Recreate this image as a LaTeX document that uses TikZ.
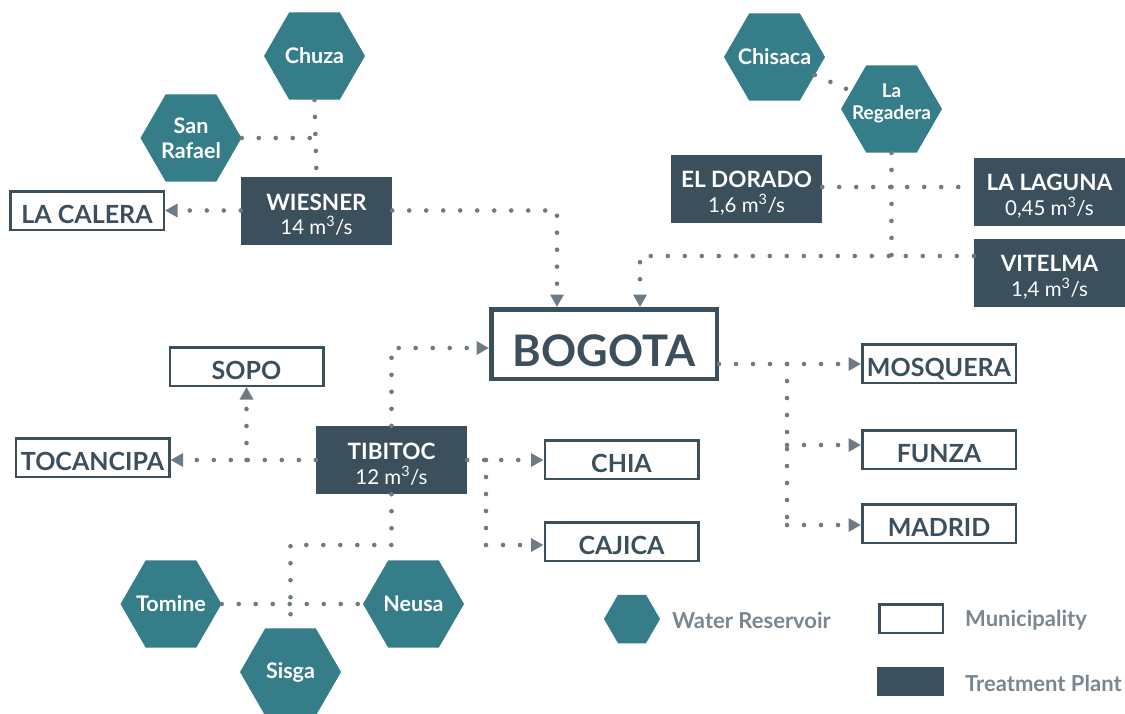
\documentclass[tikz,border=0pt]{standalone}
\usepackage{fontspec}
\setmainfont{Lato}
\usetikzlibrary{shapes.geometric,arrows.meta}
\definecolor{tealc}{RGB}{53,125,137}
\definecolor{darkc}{RGB}{60,79,93}
\definecolor{dotc}{RGB}{110,122,132}
\definecolor{legc}{RGB}{122,134,144}
\newcommand{\plab}[2]{{\bfseries\fontsize{22.5}{24.5}\selectfont #1}\\#2}
\begin{document}
\begin{tikzpicture}[x=1pt,y=-1pt,
 hexa/.style={regular polygon, regular polygon sides=6, minimum size=101pt, inner sep=0pt, fill=tealc},
 hexlab/.style={text=white, font=\bfseries\fontsize{21.5}{25}\selectfont, align=center, inner sep=0pt},
 plant/.style={fill=darkc, minimum width=151pt, minimum height=68pt, inner sep=0pt},
 plantlab/.style={text=white, align=center, inner sep=0pt, yshift=-4pt, font=\fontsize{20.5}{24.5}\selectfont},
 muni/.style={draw=darkc, line width=2.5pt, fill=white, minimum width=153.5pt, minimum height=38.5pt, inner sep=0pt, text=darkc, text height=26pt, text depth=0pt, font=\bfseries\fontsize{25}{27}\selectfont},
 dots/.style={draw=dotc, line width=4.6pt, line cap=round, dash pattern=on 0pt off 17pt},
 arr/.style={dots, -{Triangle[length=12.5pt,width=13pt]}},
 legtext/.style={text=legc, font=\bfseries\fontsize{22}{24}\selectfont, anchor=west, inner sep=0pt}
]
\useasboundingbox (0,0) rectangle (1125,713);

% reservoirs
\node[hexa, label={[hexlab]center:Chuza}] (chuza) at (314.5,56) {};
\node[hexa, label={[hexlab]center:{San\\Rafael}}] (sanrafael) at (191,138) {};
\node[hexa, label={[hexlab]center:Chisaca}] (chisaca) at (774.5,57) {};
\node[hexa, label={[hexlab, font=\bfseries\fontsize{19}{22}\selectfont, yshift=5.5pt]center:{La\\Regadera}}] (regadera) at (891.5,109) {};
\node[hexa, label={[hexlab]center:Tomine}] (tomine) at (171,604) {};
\node[hexa, label={[hexlab]center:Neusa}] (neusa) at (413.5,604) {};
\node[hexa, label={[hexlab]center:Sisga}] (sisga) at (290.5,672) {};

% treatment plants
\node[plant, label={[plantlab]center:{\plab{WIESNER}{14 m\textsuperscript{3}/s}}}] (wiesner) at (316.5,210.5) {};
\node[plant, label={[plantlab]center:{\plab{EL DORADO}{1,6 m\textsuperscript{3}/s}}}] (eldorado) at (746.5,189) {};
\node[plant, label={[plantlab]center:{\plab{LA LAGUNA}{0,45 m\textsuperscript{3}/s}}}] (laguna) at (1049.5,192) {};
\node[plant, label={[plantlab]center:{\plab{VITELMA}{1,4 m\textsuperscript{3}/s}}}] (vitelma) at (1049.5,273) {};
\node[plant, label={[plantlab]center:{\plab{TIBITOC}{12 m\textsuperscript{3}/s}}}] (tibitoc) at (391.5,460) {};

% municipalities
\node[muni] (lacalera) at (87,210.5) {LA CALERA};
\node[muni, line width=4.5pt, minimum width=225.5pt, minimum height=69.5pt, text height=45pt, font=\bfseries\fontsize{43.5}{46}\selectfont] (bogota) at (604,344) {BOGOTA};
\node[muni] (sopo) at (246.5,366.5) {SOPO};
\node[muni] (tocancipa) at (92.5,457.5) {TOCANCIPA};
\node[muni] (chia) at (621.5,459.5) {CHIA};
\node[muni] (cajica) at (621.5,541.5) {CAJICA};
\node[muni] (mosquera) at (939,363.5) {MOSQUERA};
\node[muni] (funza) at (939,449.5) {FUNZA};
\node[muni] (madrid) at (939,523.5) {MADRID};

% legend
\node[hexa, minimum size=56pt] (lhex) at (632,619) {};
\node[legtext] (lhext) at (672,620) {Water Reservoir};
\node[muni, minimum width=63.5pt, minimum height=28.5pt] (lmuni) at (911,618.5) {};
\node[legtext] (lmunit) at (965,620) {Municipality};
\node[fill=darkc, minimum width=67pt, minimum height=29pt, inner sep=0pt] (lplant) at (910.5,681.5) {};
\node[legtext] (lplantt) at (965,683) {Treatment Plant};

% junction coordinates
\coordinate (j1) at (314.5,138);
\coordinate (j2) at (891.5,256);
\coordinate (j3) at (246.5,460);
\coordinate (j4) at (486,460);
\coordinate (j5) at (290.5,545);
\coordinate (j6) at (787,364);
\coordinate (j7) at (787,445);
\coordinate (j8) at (787,525);

% connectors
\draw[dots] (chuza.south) -- (wiesner.north);
\draw[dots] (sanrafael.east) -- (j1);
\draw[arr] (wiesner.west) -- (lacalera.east |- wiesner.west);
\draw[arr] (wiesner.east) -| ([xshift=-47pt]bogota.north);
\draw[dots] (chisaca) -- (regadera);
\draw[dots] (regadera.south) -- (j2);
\draw[dots] (eldorado.east |- 0,187) -- (laguna.west |- 0,187);
\draw[arr] (vitelma.west |- j2) -| ([xshift=36pt]bogota.north);
\draw[arr] (tibitoc.north) |- (bogota.west |- 0,348);
\draw[arr] (tibitoc.west) -- (tocancipa.east |- tibitoc.west);
\draw[arr] (j3) -- (sopo.south);
\draw[arr] (tibitoc.east) -- (chia.west |- tibitoc.east);
\draw[arr] (j4) |- (cajica.west |- 0,545);
\draw[dots] (tibitoc.south) |- (j5) -- (sisga.north);
\draw[dots] (tomine.east) -- (neusa.west);
\draw[arr] (bogota.east |- j6) -- (mosquera.west |- j6);
\draw[dots] (j6) -- (j8);
\draw[arr] (j7) -- (funza.west |- j7);
\draw[arr] (j8) -- (madrid.west |- j8);
\end{tikzpicture}
\end{document}
